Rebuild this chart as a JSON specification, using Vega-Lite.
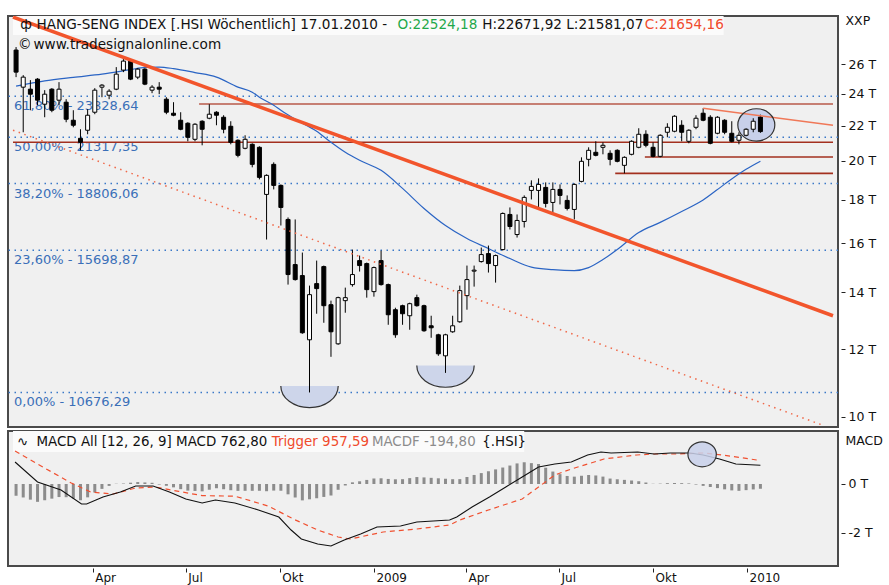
{
"$schema": "https://vega.github.io/schema/vega-lite/v6.json",
"background": "#ffffff",
"padding": {"left": 7, "top": 13, "right": 51, "bottom": 21},
"config": {"view": {"fill": "#f0f0f0", "stroke": "#4a4a4a", "strokeWidth": 2}, "font": "DejaVu Sans"},
"spacing": 4,
"bounds": "flush",
"datasets": {
"candles": [
{"d":"2008-01-17","o":27010,"h":27229,"l":25098,"c":25441,"f":-480},
{"d":"2008-01-24","o":24425,"h":25235,"l":21614,"c":25098,"f":-550},
{"d":"2008-01-31","o":24292,"h":24895,"l":22945,"c":23964,"f":-639},
{"d":"2008-02-07","o":24962,"h":25030,"l":23259,"c":23577,"f":-728},
{"d":"2008-02-14","o":23322,"h":24227,"l":22513,"c":23964,"f":-663},
{"d":"2008-02-21","o":24292,"h":24359,"l":22821,"c":22945,"f":-598},
{"d":"2008-02-28","o":23577,"h":24759,"l":23259,"c":24292,"f":-533},
{"d":"2008-03-06","o":23450,"h":23641,"l":22209,"c":22391,"f":-539},
{"d":"2008-03-13","o":22330,"h":22945,"l":21909,"c":22029,"f":-591},
{"d":"2008-03-20","o":21263,"h":21791,"l":20583,"c":21034,"f":-664},
{"d":"2008-03-27","o":21732,"h":23008,"l":21497,"c":22636,"f":-545},
{"d":"2008-04-03","o":22821,"h":24359,"l":22698,"c":24227,"f":-347},
{"d":"2008-04-10","o":24425,"h":24625,"l":23769,"c":24558,"f":-199},
{"d":"2008-04-17","o":23899,"h":24292,"l":23641,"c":24161,"f":-78},
{"d":"2008-04-24","o":24292,"h":25789,"l":24227,"c":25303,"f":10},
{"d":"2008-05-01","o":25580,"h":26356,"l":25441,"c":26213,"f":19},
{"d":"2008-05-08","o":26213,"h":26284,"l":24895,"c":24962,"f":53},
{"d":"2008-05-15","o":25098,"h":25719,"l":24962,"c":25649,"f":79},
{"d":"2008-05-22","o":25649,"h":25719,"l":24558,"c":24625,"f":64},
{"d":"2008-05-29","o":24227,"h":24558,"l":24030,"c":24425,"f":49},
{"d":"2008-06-05","o":24425,"h":24759,"l":23964,"c":24292,"f":-23},
{"d":"2008-06-12","o":23641,"h":23769,"l":22698,"c":22821,"f":-74},
{"d":"2008-06-19","o":22759,"h":23450,"l":22574,"c":22636,"f":-137},
{"d":"2008-06-26","o":22330,"h":22821,"l":21732,"c":21791,"f":-211},
{"d":"2008-07-03","o":22149,"h":22209,"l":21091,"c":21322,"f":-270},
{"d":"2008-07-10","o":21206,"h":22149,"l":21091,"c":22089,"f":-284},
{"d":"2008-07-17","o":22270,"h":22330,"l":20864,"c":21791,"f":-300},
{"d":"2008-07-24","o":22452,"h":23322,"l":22391,"c":22698,"f":-234},
{"d":"2008-07-31","o":22821,"h":22883,"l":22029,"c":22636,"f":-173},
{"d":"2008-08-07","o":22513,"h":22636,"l":21555,"c":21791,"f":-214},
{"d":"2008-08-14","o":21968,"h":22270,"l":20920,"c":21034,"f":-254},
{"d":"2008-08-21","o":21149,"h":21206,"l":20194,"c":20305,"f":-280},
{"d":"2008-08-28","o":20695,"h":21438,"l":20639,"c":21206,"f":-278},
{"d":"2008-09-04","o":20920,"h":20977,"l":19654,"c":19814,"f":-278},
{"d":"2008-09-11","o":20751,"h":20807,"l":19022,"c":19127,"f":-277},
{"d":"2008-09-18","o":18263,"h":19284,"l":16160,"c":19231,"f":-295},
{"d":"2008-09-25","o":19814,"h":19922,"l":18512,"c":18715,"f":-269},
{"d":"2008-10-02","o":18715,"h":18766,"l":16786,"c":17629,"f":-275},
{"d":"2008-10-09","o":17065,"h":17157,"l":14302,"c":14697,"f":-421},
{"d":"2008-10-16","o":15100,"h":17065,"l":14458,"c":14498,"f":-551},
{"d":"2008-10-23","o":14657,"h":15600,"l":12517,"c":12551,"f":-669},
{"d":"2008-10-30","o":12315,"h":14263,"l":10676.29,"c":13918,"f":-625},
{"d":"2008-11-06","o":14341,"h":15264,"l":13216,"c":14147,"f":-582},
{"d":"2008-11-13","o":15018,"h":15059,"l":12896,"c":13507,"f":-528},
{"d":"2008-11-20","o":13544,"h":13693,"l":11759,"c":12585,"f":-470},
{"d":"2008-11-27","o":12181,"h":13842,"l":12149,"c":13805,"f":-236},
{"d":"2008-12-04","o":13693,"h":14185,"l":13252,"c":13805,"f":-61},
{"d":"2008-12-11","o":14302,"h":15727,"l":14224,"c":14697,"f":68},
{"d":"2008-12-18","o":15264,"h":15473,"l":14817,"c":15059,"f":110},
{"d":"2008-12-25","o":15141,"h":15182,"l":13805,"c":14108,"f":166},
{"d":"2009-01-01","o":14032,"h":15018,"l":13842,"c":14978,"f":225},
{"d":"2009-01-08","o":15264,"h":15684,"l":14263,"c":14302,"f":233},
{"d":"2009-01-15","o":14302,"h":14341,"l":12826,"c":13180,"f":206},
{"d":"2009-01-22","o":13361,"h":13433,"l":12382,"c":12483,"f":192},
{"d":"2009-01-29","o":13507,"h":13544,"l":12826,"c":13216,"f":197},
{"d":"2009-02-05","o":13144,"h":13618,"l":12654,"c":13581,"f":240},
{"d":"2009-02-12","o":13805,"h":13918,"l":13470,"c":13507,"f":284},
{"d":"2009-02-19","o":13507,"h":13544,"l":12585,"c":12620,"f":269},
{"d":"2009-02-26","o":12791,"h":13144,"l":12382,"c":12722,"f":251},
{"d":"2009-03-05","o":12483,"h":12517,"l":11791,"c":11855,"f":233},
{"d":"2009-03-12","o":11791,"h":12517,"l":11258,"c":12483,"f":215},
{"d":"2009-03-19","o":12585,"h":13144,"l":12551,"c":12791,"f":196},
{"d":"2009-03-26","o":12931,"h":14263,"l":12896,"c":14070,"f":199},
{"d":"2009-04-02","o":13880,"h":15059,"l":13361,"c":14498,"f":286},
{"d":"2009-04-09","o":14834,"h":15059,"l":14224,"c":14873,"f":369},
{"d":"2009-04-16","o":15223,"h":15813,"l":15182,"c":15515,"f":445},
{"d":"2009-04-23","o":15557,"h":15899,"l":14777,"c":15141,"f":520},
{"d":"2009-04-30","o":15059,"h":15515,"l":14380,"c":15473,"f":596},
{"d":"2009-05-07","o":15727,"h":17391,"l":15684,"c":17344,"f":672},
{"d":"2009-05-14","o":17297,"h":17629,"l":16606,"c":16742,"f":753},
{"d":"2009-05-21","o":16381,"h":17297,"l":16248,"c":17018,"f":840},
{"d":"2009-05-28","o":16972,"h":18214,"l":16697,"c":18116,"f":887},
{"d":"2009-06-04","o":18462,"h":18972,"l":18016,"c":18664,"f":852},
{"d":"2009-06-11","o":18462,"h":19074,"l":17629,"c":18766,"f":817},
{"d":"2009-06-18","o":18613,"h":18868,"l":17629,"c":17821,"f":665},
{"d":"2009-06-25","o":17870,"h":18868,"l":17391,"c":18512,"f":508},
{"d":"2009-07-02","o":18512,"h":18766,"l":17773,"c":18214,"f":403},
{"d":"2009-07-09","o":17968,"h":18214,"l":17486,"c":17581,"f":328},
{"d":"2009-07-16","o":17534,"h":18817,"l":17065,"c":18766,"f":300},
{"d":"2009-07-23","o":18920,"h":20194,"l":18868,"c":19977,"f":336},
{"d":"2009-07-30","o":20085,"h":20751,"l":19707,"c":20583,"f":367},
{"d":"2009-08-06","o":20471,"h":21091,"l":20249,"c":20305,"f":348},
{"d":"2009-08-13","o":20751,"h":21034,"l":20361,"c":20864,"f":302},
{"d":"2009-08-20","o":20416,"h":20583,"l":19761,"c":20085,"f":222},
{"d":"2009-08-27","o":20583,"h":20639,"l":19922,"c":19977,"f":193},
{"d":"2009-09-03","o":19761,"h":20249,"l":19336,"c":20194,"f":168},
{"d":"2009-09-10","o":20361,"h":21149,"l":20305,"c":21091,"f":143},
{"d":"2009-09-17","o":20751,"h":21850,"l":20695,"c":21497,"f":113},
{"d":"2009-09-24","o":21497,"h":21732,"l":20751,"c":20864,"f":61},
{"d":"2009-10-01","o":20751,"h":21034,"l":20194,"c":20249,"f":9},
{"d":"2009-10-08","o":20249,"h":21497,"l":20194,"c":21438,"f":15},
{"d":"2009-10-15","o":21614,"h":22149,"l":21322,"c":21909,"f":34},
{"d":"2009-10-22","o":21673,"h":22636,"l":21614,"c":22574,"f":41},
{"d":"2009-10-29","o":22029,"h":22330,"l":21091,"c":21614,"f":34},
{"d":"2009-11-05","o":21091,"h":21791,"l":20977,"c":21732,"f":23},
{"d":"2009-11-12","o":21909,"h":22636,"l":21791,"c":22452,"f":-23},
{"d":"2009-11-19","o":22759,"h":23070,"l":22270,"c":22330,"f":-77},
{"d":"2009-11-26","o":22513,"h":22636,"l":20920,"c":20977,"f":-122},
{"d":"2009-12-03","o":21555,"h":22574,"l":21497,"c":22513,"f":-168},
{"d":"2009-12-10","o":22330,"h":22391,"l":21497,"c":21614,"f":-218},
{"d":"2009-12-17","o":21555,"h":22270,"l":21034,"c":21091,"f":-261},
{"d":"2009-12-24","o":21149,"h":21614,"l":20920,"c":21438,"f":-279},
{"d":"2009-12-31","o":21438,"h":21850,"l":21380,"c":21791,"f":-251},
{"d":"2010-01-07","o":21791,"h":22452,"l":21614,"c":22270,"f":-222},
{"d":"2010-01-14","o":22524.18,"h":22671.92,"l":21581.07,"c":21654.16,"f":-194.8}
],
"ma": [
{"d":"2008-01-17","p":24491},{"d":"2008-02-14","p":24847},{"d":"2008-03-13","p":25087},{"d":"2008-04-10","p":25303},
{"d":"2008-05-08","p":25612},{"d":"2008-05-22","p":25770},{"d":"2008-06-05","p":25789},{"d":"2008-06-19","p":25685},
{"d":"2008-07-10","p":25410},{"d":"2008-07-31","p":25098},{"d":"2008-08-21","p":24425},{"d":"2008-09-04","p":24095},
{"d":"2008-09-11","p":23769},{"d":"2008-09-25","p":23259},{"d":"2008-10-02","p":22945},{"d":"2008-10-16","p":22391},
{"d":"2008-11-06","p":21673},{"d":"2008-11-20","p":21034},{"d":"2008-12-04","p":20471},{"d":"2008-12-18","p":20031},
{"d":"2009-01-08","p":19493},{"d":"2009-01-29","p":18562},{"d":"2009-02-19","p":17581},{"d":"2009-03-12","p":16786},
{"d":"2009-04-02","p":16204},{"d":"2009-04-23","p":15770},{"d":"2009-05-14","p":15348},{"d":"2009-06-04","p":14996},
{"d":"2009-06-25","p":14896},{"d":"2009-07-16","p":14857},{"d":"2009-07-30","p":14978},{"d":"2009-08-13","p":15306},
{"d":"2009-08-27","p":15727},{"d":"2009-09-17","p":16470},{"d":"2009-10-08","p":16931},{"d":"2009-10-29","p":17438},
{"d":"2009-11-19","p":17990},{"d":"2009-12-10","p":18780},{"d":"2009-12-31","p":19547},{"d":"2010-01-14","p":19977}
],
"macd": [
{"d":"2008-01-16","v":898},{"d":"2008-02-07","v":82},{"d":"2008-03-01","v":-245},{"d":"2008-03-21","v":-816},
{"d":"2008-03-26","v":-816},{"d":"2008-04-11","v":-531},{"d":"2008-04-28","v":-327},{"d":"2008-05-13","v":-82},
{"d":"2008-05-30","v":-82},{"d":"2008-06-15","v":-327},{"d":"2008-07-01","v":-612},{"d":"2008-07-17","v":-776},
{"d":"2008-07-30","v":-653},{"d":"2008-08-18","v":-776},{"d":"2008-09-10","v":-1061},{"d":"2008-09-30","v":-1347},
{"d":"2008-10-12","v":-1878},{"d":"2008-10-22","v":-2245},{"d":"2008-11-07","v":-2449},{"d":"2008-11-20","v":-2531},
{"d":"2008-12-03","v":-2286},{"d":"2008-12-19","v":-2041},{"d":"2009-01-04","v":-1755},{"d":"2009-01-27","v":-1714},
{"d":"2009-02-12","v":-1551},{"d":"2009-03-16","v":-1469},{"d":"2009-03-23","v":-1347},{"d":"2009-04-07","v":-939},
{"d":"2009-04-24","v":-531},{"d":"2009-05-10","v":-122},{"d":"2009-05-26","v":286},{"d":"2009-06-11","v":694},
{"d":"2009-06-27","v":816},{"d":"2009-07-13","v":898},{"d":"2009-07-29","v":1184},{"d":"2009-08-11","v":1306},
{"d":"2009-08-21","v":1265},{"d":"2009-09-16","v":1306},{"d":"2009-10-02","v":1224},{"d":"2009-10-18","v":1265},
{"d":"2009-11-06","v":1265},{"d":"2009-11-19","v":1184},{"d":"2009-12-05","v":1020},{"d":"2009-12-21","v":816},
{"d":"2010-01-14","v":762.8}
],
"trig": [
{"d":"2008-01-16","v":1347},{"d":"2008-02-14","v":650},{"d":"2008-03-11","v":40},{"d":"2008-03-30","v":-327},
{"d":"2008-04-21","v":-408},{"d":"2008-05-13","v":-163},{"d":"2008-06-01","v":-122},{"d":"2008-06-24","v":-300},
{"d":"2008-07-17","v":-476},{"d":"2008-08-18","v":-496},{"d":"2008-09-20","v":-904},{"d":"2008-10-15","v":-1446},
{"d":"2008-11-07","v":-1878},{"d":"2008-11-27","v":-2163},{"d":"2008-12-09","v":-2245},{"d":"2009-01-10","v":-1959},
{"d":"2009-02-12","v":-1837},{"d":"2009-03-16","v":-1673},{"d":"2009-03-26","v":-1469},{"d":"2009-04-23","v":-1061},
{"d":"2009-05-26","v":-612},{"d":"2009-06-11","v":-122},{"d":"2009-06-27","v":367},{"d":"2009-07-13","v":612},
{"d":"2009-08-14","v":1020},{"d":"2009-09-15","v":1184},{"d":"2009-10-01","v":1224},{"d":"2009-10-24","v":1224},
{"d":"2009-11-19","v":1265},{"d":"2009-12-08","v":1184},{"d":"2010-01-14","v":957.59}
],
"fib": [
{"t":"61,80% - 23828,64","p":23828.64},
{"t":"50,00% - 21317,35","p":21317.35},
{"t":"38,20% - 18806,06","p":18806.06},
{"t":"23,60% - 15698,87","p":15698.87},
{"t":"0,00% - 10676,29","p":10676.29}
],
"hl": [
{"k":"a","d":"2008-07-14","d2":"2010-03-26","p":23340},
{"k":"b","d":"2008-01-14","d2":"2010-03-26","p":21034},
{"k":"b","d":"2009-09-23","d2":"2010-03-26","p":20212},
{"k":"b","d":"2009-08-25","d2":"2010-03-26","p":19336}
],
"trend": [
{"k":"main","d":"2008-01-14","p":29540},{"k":"main","d":"2010-03-26","p":13144},
{"k":"chan","d":"2008-01-14","p":21732},{"k":"chan","d":"2010-03-18","p":9750},
{"k":"top","d":"2009-11-19","p":23070},{"k":"top","d":"2010-03-26","p":22029}
],
"notes": [
{"t":"ф","d":"2008-01-21","p":28906,"g":"k"},
{"t":"HANG-SENG INDEX [.HSI  Wöchentlich] 17.01.2010 -","d":"2008-02-06","p":28906,"g":"k"},
{"t":"O:22524,18","d":"2009-01-24","p":28906,"g":"g"},
{"t":"H:22671,92 L:21581,07","d":"2009-04-17","p":28906,"g":"k"},
{"t":"C:21654,16","d":"2009-09-23","p":28906,"g":"r"},
{"t":"©","d":"2008-01-19","p":27378,"g":"k"},
{"t":"www.tradesignalonline.com","d":"2008-02-03","p":27378,"g":"k"}
],
"mnotes": [
{"t":"∿","d":"2008-01-18","v":1714,"g":"k"},
{"t":"MACD All [12, 26, 9] MACD 762,80","d":"2008-02-06","v":1714,"g":"k"},
{"t":"Trigger 957,59","d":"2008-09-23","v":1714,"g":"r"},
{"t":"MACDF -194,80","d":"2008-12-30","v":1714,"g":"gr"},
{"t":"{.HSI}","d":"2009-04-17","v":1714,"g":"k"}
]
},
"vconcat": [
{
"width": 830, "height": 411,
"layer": [
{"data": {"name": "fib"},
 "mark": {"type": "rule", "color": "#3a78c8", "strokeWidth": 1.5, "strokeDash": [1.5, 4.5], "clip": true},
 "encoding": {
  "y": {"field": "p", "type": "quantitative", "scale": {"type": "log", "domain": [9722, 29622], "nice": false},
   "axis": {"orient": "right", "values": [10000,12000,14000,16000,18000,20000,22000,24000,26000], "labelExpr": "(datum.value/1000) + ' T'", "grid": false, "domain": false, "ticks": true, "tickSize": 4, "tickColor": "#222222", "tickWidth": 1, "offset": 3, "labelPadding": 3, "labelFont": "DejaVu Sans", "labelFontSize": 12.5, "labelColor": "#111111", "labelBound": false, "labelFlush": false, "labelOverlap": false, "title": "XXP", "titleAngle": 0, "titleX": 4, "titleY": 4, "titleAlign": "left", "titleBaseline": "middle", "titleFont": "DejaVu Sans", "titleFontSize": 12.5, "titleFontWeight": "normal", "titleColor": "#111111"}}}},
{"data": {"values": [{}]},
 "mark": {"type": "rect", "fill": "#fbfbfb", "clip": true},
 "encoding": {
  "x": {"datum": {"year":2008,"month":1,"date":14,"utc":true}, "type": "temporal", "scale": {"domain": [{"year":2008,"month":1,"date":14,"utc":true},{"year":2010,"month":3,"date":26,"utc":true}], "nice": false}, "axis": null},
  "x2": {"datum": {"year":2009,"month":12,"date":9,"utc":true}},
  "y": {"datum": 29622, "type": "quantitative", "scale": {"type": "log", "domain": [9722, 29622], "nice": false}},
  "y2": {"datum": 28132}}},
{"data": {"name": "fib"},
 "mark": {"type": "text", "align": "left", "baseline": "middle", "dx": 1, "dy": 10, "fontSize": 13, "color": "#3a6fb8", "clip": true},
 "encoding": {
  "x": {"datum": {"year":2008,"month":1,"date":14,"utc":true}, "type": "temporal", "scale": {"domain": [{"year":2008,"month":1,"date":14,"utc":true},{"year":2010,"month":3,"date":26,"utc":true}], "nice": false}, "axis": null},
  "y": {"field": "p", "type": "quantitative", "scale": {"type": "log", "domain": [9722, 29622], "nice": false}},
  "text": {"field": "t"}}},
{"data": {"name": "hl"},
 "transform": [{"filter": "datum.k == 'a'"}],
 "mark": {"type": "rule", "strokeWidth": 1.6, "color": "#b85a4a", "clip": true},
 "encoding": {
  "x": {"field": "d", "type": "temporal", "scale": {"domain": [{"year":2008,"month":1,"date":14,"utc":true},{"year":2010,"month":3,"date":26,"utc":true}], "nice": false}, "axis": null},
  "x2": {"field": "d2"},
  "y": {"field": "p", "type": "quantitative", "scale": {"type": "log", "domain": [9722, 29622], "nice": false}}}},
{"data": {"name": "hl"},
 "transform": [{"filter": "datum.k == 'b'"}],
 "mark": {"type": "rule", "strokeWidth": 1.6, "color": "#a3301f", "clip": true},
 "encoding": {
  "x": {"field": "d", "type": "temporal", "scale": {"domain": [{"year":2008,"month":1,"date":14,"utc":true},{"year":2010,"month":3,"date":26,"utc":true}], "nice": false}, "axis": null},
  "x2": {"field": "d2"},
  "y": {"field": "p", "type": "quantitative", "scale": {"type": "log", "domain": [9722, 29622], "nice": false}}}},
{"data": {"values": [{"d":"2008-10-30","p":10868},{"d":"2009-03-12","p":11484}]},
 "mark": {"type": "point", "shape": "M -1 0 A 1 0.756 0 0 0 1 0 Z", "size": 3295, "filled": true, "fill": "#cdd5ea", "opacity": 1, "strokeWidth": 0, "clip": true},
 "encoding": {
  "x": {"field": "d", "type": "temporal", "scale": {"domain": [{"year":2008,"month":1,"date":14,"utc":true},{"year":2010,"month":3,"date":26,"utc":true}], "nice": false}, "axis": null},
  "y": {"field": "p", "type": "quantitative", "scale": {"type": "log", "domain": [9722, 29622], "nice": false}}}},
{"data": {"values": [{"d":"2010-01-10","p":22047}]},
 "mark": {"type": "point", "shape": "M -1 0 A 1 0.876 0 1 0 1 0 A 1 0.876 0 1 0 -1 0 Z", "size": 1369, "filled": true, "fill": "#c8d0ea", "opacity": 1, "strokeWidth": 0, "clip": true},
 "encoding": {
  "x": {"field": "d", "type": "temporal", "scale": {"domain": [{"year":2008,"month":1,"date":14,"utc":true},{"year":2010,"month":3,"date":26,"utc":true}], "nice": false}, "axis": null},
  "y": {"field": "p", "type": "quantitative", "scale": {"type": "log", "domain": [9722, 29622], "nice": false}}}},
{"data": {"name": "ma"},
 "mark": {"type": "line", "color": "#2a64c4", "strokeWidth": 1.2, "interpolate": "monotone", "clip": true},
 "encoding": {
  "x": {"field": "d", "type": "temporal", "scale": {"domain": [{"year":2008,"month":1,"date":14,"utc":true},{"year":2010,"month":3,"date":26,"utc":true}], "nice": false}, "axis": null},
  "y": {"field": "p", "type": "quantitative", "scale": {"type": "log", "domain": [9722, 29622], "nice": false}}}},
{"data": {"name": "candles"},
 "mark": {"type": "rule", "color": "#000000", "strokeWidth": 1, "clip": true},
 "encoding": {
  "x": {"field": "d", "type": "temporal", "scale": {"domain": [{"year":2008,"month":1,"date":14,"utc":true},{"year":2010,"month":3,"date":26,"utc":true}], "nice": false}, "axis": null},
  "y": {"field": "l", "type": "quantitative", "scale": {"type": "log", "domain": [9722, 29622], "nice": false}},
  "y2": {"field": "h"}}},
{"data": {"name": "candles"},
 "mark": {"type": "bar", "width": 4, "stroke": "#000000", "strokeWidth": 1, "clip": true},
 "encoding": {
  "x": {"field": "d", "type": "temporal", "scale": {"domain": [{"year":2008,"month":1,"date":14,"utc":true},{"year":2010,"month":3,"date":26,"utc":true}], "nice": false}, "axis": null},
  "y": {"field": "o", "type": "quantitative", "scale": {"type": "log", "domain": [9722, 29622], "nice": false}},
  "y2": {"field": "c"},
  "fill": {"condition": {"test": "datum.c >= datum.o", "value": "#ffffff"}, "value": "#000000"}}},
{"data": {"name": "trend"},
 "transform": [{"filter": "datum.k == 'main'"}],
 "mark": {"type": "line", "color": "#f2552c", "strokeWidth": 3.5, "clip": true},
 "encoding": {
  "x": {"field": "d", "type": "temporal", "scale": {"domain": [{"year":2008,"month":1,"date":14,"utc":true},{"year":2010,"month":3,"date":26,"utc":true}], "nice": false}, "axis": null},
  "y": {"field": "p", "type": "quantitative", "scale": {"type": "log", "domain": [9722, 29622], "nice": false}}}},
{"data": {"name": "trend"},
 "transform": [{"filter": "datum.k == 'chan'"}],
 "mark": {"type": "line", "color": "#f06848", "strokeWidth": 1.5, "strokeDash": [1.5, 4.5], "clip": true},
 "encoding": {
  "x": {"field": "d", "type": "temporal", "scale": {"domain": [{"year":2008,"month":1,"date":14,"utc":true},{"year":2010,"month":3,"date":26,"utc":true}], "nice": false}, "axis": null},
  "y": {"field": "p", "type": "quantitative", "scale": {"type": "log", "domain": [9722, 29622], "nice": false}}}},
{"data": {"name": "trend"},
 "transform": [{"filter": "datum.k == 'top'"}],
 "mark": {"type": "line", "color": "#f07858", "strokeWidth": 1.5, "clip": true},
 "encoding": {
  "x": {"field": "d", "type": "temporal", "scale": {"domain": [{"year":2008,"month":1,"date":14,"utc":true},{"year":2010,"month":3,"date":26,"utc":true}], "nice": false}, "axis": null},
  "y": {"field": "p", "type": "quantitative", "scale": {"type": "log", "domain": [9722, 29622], "nice": false}}}},
{"data": {"values": [{"d":"2008-10-30","p":10868},{"d":"2009-03-12","p":11484}]},
 "mark": {"type": "point", "shape": "M -1 0 A 1 0.756 0 0 0 1 0", "size": 3295, "filled": false, "stroke": "#333333", "strokeWidth": 1.2, "opacity": 1, "clip": true},
 "encoding": {
  "x": {"field": "d", "type": "temporal", "scale": {"domain": [{"year":2008,"month":1,"date":14,"utc":true},{"year":2010,"month":3,"date":26,"utc":true}], "nice": false}, "axis": null},
  "y": {"field": "p", "type": "quantitative", "scale": {"type": "log", "domain": [9722, 29622], "nice": false}}}},
{"data": {"values": [{"d":"2010-01-10","p":22047}]},
 "mark": {"type": "point", "shape": "M -1 0 A 1 0.876 0 1 0 1 0 A 1 0.876 0 1 0 -1 0 Z", "size": 1369, "filled": false, "stroke": "#333333", "strokeWidth": 1.2, "opacity": 1, "clip": true},
 "encoding": {
  "x": {"field": "d", "type": "temporal", "scale": {"domain": [{"year":2008,"month":1,"date":14,"utc":true},{"year":2010,"month":3,"date":26,"utc":true}], "nice": false}, "axis": null},
  "y": {"field": "p", "type": "quantitative", "scale": {"type": "log", "domain": [9722, 29622], "nice": false}}}},
{"data": {"name": "notes"},
 "mark": {"type": "text", "align": "left", "baseline": "middle", "fontSize": 13.6, "clip": true},
 "encoding": {
  "x": {"field": "d", "type": "temporal", "scale": {"domain": [{"year":2008,"month":1,"date":14,"utc":true},{"year":2010,"month":3,"date":26,"utc":true}], "nice": false}, "axis": null},
  "y": {"field": "p", "type": "quantitative", "scale": {"type": "log", "domain": [9722, 29622], "nice": false}},
  "text": {"field": "t"},
  "color": {"field": "g", "type": "nominal", "scale": {"domain": ["k","g","r","gr"], "range": ["#111111","#1fa84a","#f04a2c","#8c8c8c"]}, "legend": null}}}
]
},
{
"width": 830, "height": 135,
"layer": [
{"data": {"name": "candles"},
 "mark": {"type": "bar", "width": 3, "color": "#8c8c8c", "clip": true},
 "encoding": {
  "x": {"field": "d", "type": "temporal", "scale": {"domain": [{"year":2008,"month":1,"date":14,"utc":true},{"year":2010,"month":3,"date":26,"utc":true}], "nice": false},
   "axis": {"orient": "bottom", "values": [{"year":2008,"month":4,"date":1,"utc":true},{"year":2008,"month":7,"date":1,"utc":true},{"year":2008,"month":10,"date":1,"utc":true},{"year":2009,"month":1,"date":1,"utc":true},{"year":2009,"month":4,"date":1,"utc":true},{"year":2009,"month":7,"date":1,"utc":true},{"year":2009,"month":10,"date":1,"utc":true},{"year":2010,"month":1,"date":1,"utc":true}],
    "labelExpr": "utcmonth(datum.value) == 0 ? utcFormat(datum.value, '%Y') : (utcmonth(datum.value) == 3 ? 'Apr' : (utcmonth(datum.value) == 6 ? 'Jul' : 'Okt'))",
    "grid": false, "domain": false, "ticks": true, "tickSize": 4, "tickColor": "#222222", "offset": 2, "labelAlign": "left", "labelBaseline": "top", "labelPadding": 0, "labelOffset": 2, "labelFont": "DejaVu Sans", "labelFontSize": 12, "labelColor": "#111111", "labelFlush": false, "labelOverlap": false, "labelBound": false, "title": null}},
  "y": {"field": "f", "type": "quantitative", "scale": {"domain": [-3347, 2163], "nice": false, "zero": false},
   "axis": {"orient": "right", "values": [0, -2000], "labelExpr": "(datum.value/1000) + ' T'", "grid": false, "domain": false, "ticks": true, "tickSize": 4, "tickColor": "#222222", "offset": 3, "labelPadding": 3, "labelFont": "DejaVu Sans", "labelFontSize": 12.5, "labelColor": "#111111", "labelBound": false, "labelFlush": false, "labelOverlap": false, "title": "MACD", "titleAngle": 0, "titleX": 4, "titleY": 9, "titleAlign": "left", "titleBaseline": "middle", "titleFont": "DejaVu Sans", "titleFontSize": 12.5, "titleFontWeight": "normal", "titleColor": "#111111"}},
  "y2": {"datum": 0}}},
{"data": {"values": [{}]},
 "mark": {"type": "rect", "fill": "#fbfbfb", "clip": true},
 "encoding": {
  "x": {"datum": {"year":2008,"month":1,"date":14,"utc":true}, "type": "temporal", "scale": {"domain": [{"year":2008,"month":1,"date":14,"utc":true},{"year":2010,"month":3,"date":26,"utc":true}], "nice": false}},
  "x2": {"datum": {"year":2009,"month":5,"date":28,"utc":true}},
  "y": {"datum": 2163, "type": "quantitative", "scale": {"domain": [-3347, 2163], "nice": false, "zero": false}},
  "y2": {"datum": 1306}}},
{"data": {"name": "trig"},
 "mark": {"type": "line", "color": "#f05030", "strokeWidth": 1.2, "strokeDash": [5, 4], "clip": true},
 "encoding": {
  "x": {"field": "d", "type": "temporal", "scale": {"domain": [{"year":2008,"month":1,"date":14,"utc":true},{"year":2010,"month":3,"date":26,"utc":true}], "nice": false}},
  "y": {"field": "v", "type": "quantitative", "scale": {"domain": [-3347, 2163], "nice": false, "zero": false}}}},
{"data": {"name": "macd"},
 "mark": {"type": "line", "color": "#111111", "strokeWidth": 1.1, "clip": true},
 "encoding": {
  "x": {"field": "d", "type": "temporal", "scale": {"domain": [{"year":2008,"month":1,"date":14,"utc":true},{"year":2010,"month":3,"date":26,"utc":true}], "nice": false}},
  "y": {"field": "v", "type": "quantitative", "scale": {"domain": [-3347, 2163], "nice": false, "zero": false}}}},
{"data": {"values": [{"d":"2009-11-18","v":1212}]},
 "mark": {"type": "point", "shape": "M -1 0 A 1 0.88 0 1 0 1 0 A 1 0.88 0 1 0 -1 0 Z", "size": 807, "filled": true, "fill": "#c8d0ea", "fillOpacity": 0.85, "stroke": "#333333", "strokeWidth": 1.2, "opacity": 1, "clip": true},
 "encoding": {
  "x": {"field": "d", "type": "temporal", "scale": {"domain": [{"year":2008,"month":1,"date":14,"utc":true},{"year":2010,"month":3,"date":26,"utc":true}], "nice": false}},
  "y": {"field": "v", "type": "quantitative", "scale": {"domain": [-3347, 2163], "nice": false, "zero": false}}}},
{"data": {"name": "mnotes"},
 "mark": {"type": "text", "align": "left", "baseline": "middle", "fontSize": 13.4, "clip": true},
 "encoding": {
  "x": {"field": "d", "type": "temporal", "scale": {"domain": [{"year":2008,"month":1,"date":14,"utc":true},{"year":2010,"month":3,"date":26,"utc":true}], "nice": false}},
  "y": {"field": "v", "type": "quantitative", "scale": {"domain": [-3347, 2163], "nice": false, "zero": false}},
  "text": {"field": "t"},
  "color": {"field": "g", "type": "nominal", "scale": {"domain": ["k","g","r","gr"], "range": ["#111111","#1fa84a","#f04a2c","#8c8c8c"]}, "legend": null}}}
]
}
]
}
